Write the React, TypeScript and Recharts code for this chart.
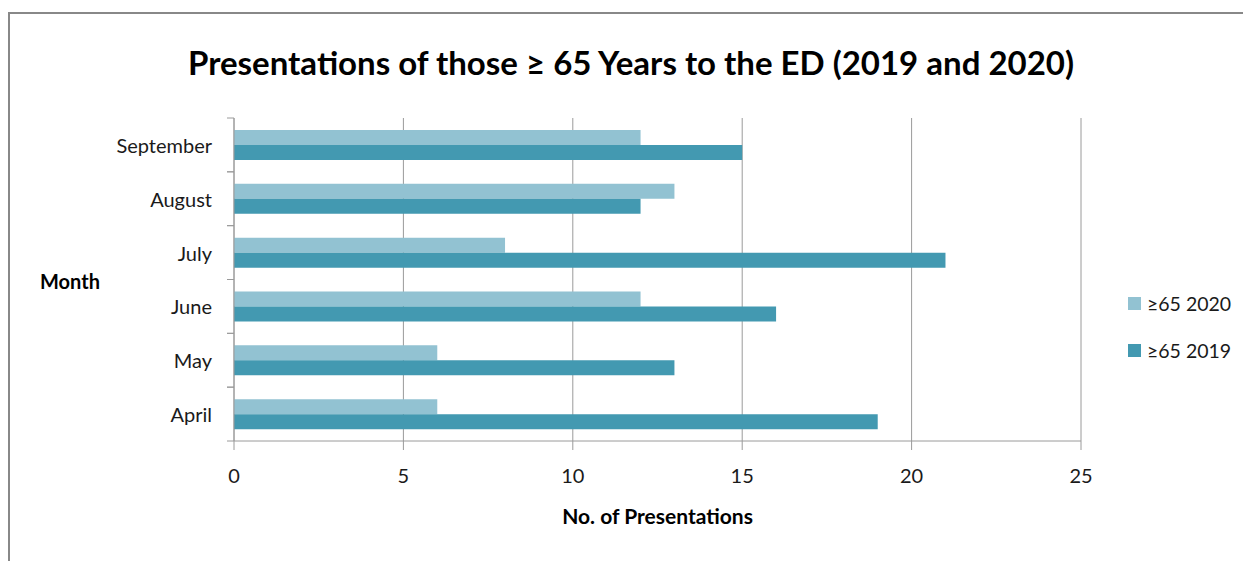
import React from 'react';
import { BarChart, Bar, XAxis, YAxis, CartesianGrid, Legend } from 'recharts';

const months = ['April', 'May', 'June', 'July', 'August', 'September'];
const seriesNames = ['\u226565 2020', '\u226565 2019'];
const values2020 = [6, 6, 12, 8, 13, 12];
const values2019 = [19, 13, 16, 21, 12, 15];
const xTicks = [0, 5, 10, 15, 20, 25];
const colors = ['#92C2D2', '#4399B1'];

const data = months.map((m, i) => ({ month: m, v2020: values2020[i], v2019: values2019[i] }));

const W = 1243;
const H = 553;
const TOP = 110;
const AXIS_W = 226;
const X_AXIS_H = 120;
const PLOT_H = H - TOP - X_AXIS_H;
const BAND = PLOT_H / months.length;
const FONT = 'Lato, "Open Sans", sans-serif';
const GRAY = '#9a9a9a';

const YTick = (props: any) => {
  const { y, payload } = props;
  return (
    <g>
      <line x1={AXIS_W - 7} x2={AXIS_W} y1={y - BAND / 2} y2={y - BAND / 2} stroke={GRAY} strokeWidth={1} />
      <line x1={AXIS_W - 7} x2={AXIS_W} y1={y + BAND / 2} y2={y + BAND / 2} stroke={GRAY} strokeWidth={1} />
      <text x={AXIS_W - 22} y={y} textAnchor="end" dominantBaseline="central" fontSize={20} fill="#1a1a1a" fontFamily={FONT}>
        {payload.value}
      </text>
    </g>
  );
};

const LegendContent = () => (
  <div style={{ width: 151, paddingLeft: 47, boxSizing: 'border-box', fontFamily: FONT, whiteSpace: 'nowrap' }}>
    {seriesNames.map((n, i) => (
      <div key={n} style={{ display: 'flex', alignItems: 'center', height: 47, whiteSpace: 'nowrap' }}>
        <span style={{ display: 'inline-block', flex: 'none', width: 13, height: 13, background: colors[i], marginRight: 6 }} />
        <span style={{ fontSize: 19.5, color: '#1a1a1a', whiteSpace: 'nowrap' }}>{n}</span>
      </div>
    ))}
  </div>
);

export default function App() {
  return (
    <div style={{ position: 'relative', width: W, height: H, overflow: 'hidden', fontFamily: FONT }}>
      <div style={{ position: 'absolute', left: 0, top: 4, width: 1400, height: 800, border: '2px solid #888', boxSizing: 'border-box' }} />
      <div style={{ position: 'absolute', left: 0, top: 38, width: 1246, textAlign: 'center', fontSize: 33, fontWeight: 700, lineHeight: '33px', color: '#000' }}>
        Presentations of those ≥ 65 Years to the ED (2019 and 2020)
      </div>
      <div style={{ position: 'absolute', left: 32, top: 261, fontSize: 20, fontWeight: 700, lineHeight: '24px', color: '#000' }}>
        Month
      </div>
      <div style={{ position: 'absolute', left: 0, top: 0 }}>
        <BarChart
          width={W}
          height={H}
          data={data}
          layout="vertical"
          margin={{ top: TOP, right: 19, bottom: 0, left: 0 }}
          barGap={0}
        >
          <CartesianGrid horizontal={false} stroke={GRAY} />
          <XAxis
            type="number"
            domain={[0, 25]}
            ticks={xTicks}
            height={X_AXIS_H}
            tickSize={9}
            tickMargin={19}
            axisLine={{ stroke: GRAY }}
            tickLine={{ stroke: GRAY }}
            tick={{ fontSize: 20, fill: '#1a1a1a', fontFamily: FONT }}
            label={{ value: 'No. of Presentations', position: 'insideTop', offset: 68, fontSize: 21, fontWeight: 700, fill: '#000', fontFamily: FONT }}
          />
          <YAxis
            type="category"
            dataKey="month"
            reversed
            width={AXIS_W}
            axisLine={{ stroke: GRAY }}
            tickLine={false}
            tick={<YTick />}
            interval={0}
          />
          <Legend
            layout="vertical"
            align="right"
            verticalAlign="middle"
            content={<LegendContent />}
            wrapperStyle={{ top: 272 }}
          />
          <Bar dataKey="v2020" name={seriesNames[0]} fill={colors[0]} barSize={15} isAnimationActive={false} />
          <Bar dataKey="v2019" name={seriesNames[1]} fill={colors[1]} barSize={15} isAnimationActive={false} />
        </BarChart>
      </div>
    </div>
  );
}
